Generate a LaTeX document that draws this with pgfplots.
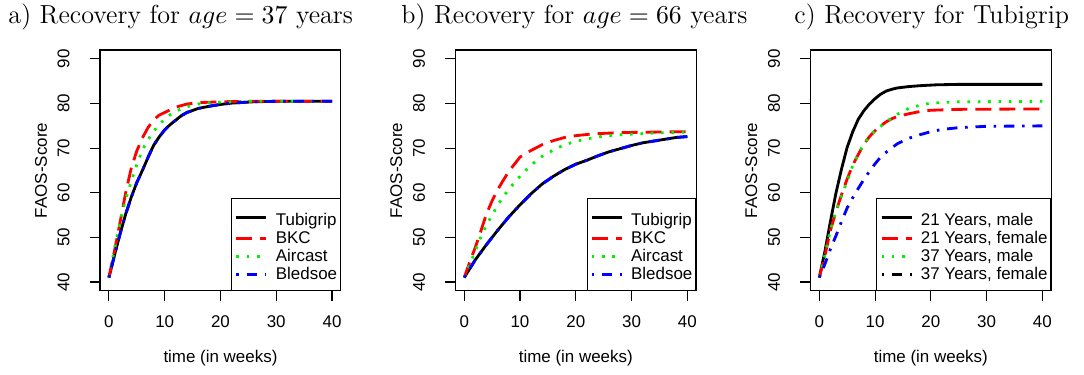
\documentclass[border=0pt]{standalone}
\usepackage{pgfplots}
\pgfplotsset{compat=1.18}
\usepackage{fontspec}
\newfontfamily\arial{Liberation Sans}
\definecolor{rred}{RGB}{255,0,0}
\definecolor{rgreen}{RGB}{0,240,0}
\definecolor{rblue}{RGB}{0,0,255}

\pgfplotstableread{
t a
0 41.0
1 46.0
2 50.8
3 55.2
4 59.0
5 62.3
6 65.0
7 67.9
8 70.6
9 72.5
10 74.1
11 75.3
12 76.3
13 77.3
14 78.0
16 78.9
18 79.4
20 79.8
22 80.1
26 80.4
30 80.5
40 80.5
}\aTub
\pgfplotstableread{
t a
0 41.0
1 47.0
2 53.4
3 60.0
4 65.5
5 69.4
6 72.3
7 74.6
8 76.3
9 77.4
10 78.0
11 78.6
12 79.2
14 79.9
16 80.2
20 80.4
25 80.5
40 80.5
}\aBKC
\pgfplotstableread{
t a
0 41.0
1 47.5
2 53.4
3 58.6
4 62.5
5 66.3
6 69.6
7 71.9
8 73.7
9 75.3
10 76.5
11 77.5
12 78.3
14 79.3
16 79.9
18 80.2
20 80.3
25 80.5
40 80.5
}\aAir
\pgfplotstableread{
t a
0 41.0
1 46.0
2 50.8
3 55.2
4 59.0
5 62.3
6 65.0
7 67.9
8 70.6
9 72.5
10 74.1
11 75.3
12 76.3
13 77.3
14 78.0
16 78.9
18 79.4
20 79.8
22 80.1
26 80.4
30 80.5
40 80.5
}\aBle
\pgfplotstableread{
t a
0 41.0
2 45.0
4 48.4
6 51.6
8 54.6
10 57.3
12 59.8
14 62.0
16 63.7
18 65.2
20 66.4
22 67.3
24 68.3
26 69.2
28 69.9
30 70.6
32 71.2
34 71.6
36 72.0
38 72.4
40 72.6
}\bTub
\pgfplotstableread{
t a
0 41.0
1 44.5
2 47.8
3 51.5
4 55.3
5 58.2
6 60.7
7 62.8
8 64.8
9 66.4
10 68.0
11 68.8
12 69.5
14 70.8
16 71.7
18 72.4
20 72.8
23 73.2
28 73.5
34 73.6
40 73.7
}\bBKC
\pgfplotstableread{
t a
0 41.0
1 44.0
2 47.0
3 50.2
4 52.8
5 55.0
6 57.2
7 59.1
8 60.8
9 62.3
10 63.7
11 65.0
12 66.2
14 68.2
16 69.6
18 70.8
20 71.5
22 72.1
25 72.7
28 73.0
34 73.4
40 73.6
}\bAir
\pgfplotstableread{
t a
0 41.0
2 45.0
4 48.4
6 51.6
8 54.6
10 57.3
12 59.8
14 62.0
16 63.7
18 65.2
20 66.4
22 67.3
24 68.3
26 69.2
28 69.9
30 70.6
32 71.2
34 71.6
36 72.0
38 72.4
40 72.6
}\bBle
\pgfplotstableread{
t a
0 41.0
1 46.8
2 53.6
3 60.0
4 65.4
5 70.2
6 73.7
7 76.5
8 78.4
9 79.9
10 81.1
11 82.1
12 82.8
13 83.2
14 83.5
16 83.8
18 84.0
21 84.2
25 84.3
40 84.3
}\cMa
\pgfplotstableread{
t a
0 41.0
1 45.8
2 51.6
3 55.8
4 59.6
5 63.1
6 66.2
7 68.6
8 70.9
9 72.6
10 73.9
11 75.0
12 75.9
13 76.6
14 77.1
16 77.7
18 78.2
20 78.5
25 78.7
40 78.8
}\cMb
\pgfplotstableread{
t a
0 41.0
1 46.0
2 51.6
3 55.9
4 59.4
5 62.6
6 66.1
7 68.8
8 70.9
9 72.8
10 74.0
11 74.9
12 75.9
13 76.8
14 77.6
16 78.9
18 79.6
20 80.1
25 80.4
40 80.5
}\cMc
\pgfplotstableread{
t a
0 41.0
1 44.0
2 47.4
3 50.4
4 53.6
5 56.6
6 58.9
7 61.0
8 63.0
9 64.8
10 66.5
11 68.0
12 69.1
14 71.0
16 72.2
18 73.0
20 73.7
22 74.2
25 74.6
30 74.9
40 75.0
}\cMd

\pgfplotsset{
 rpanel/.style={
  scale only axis, width=102.4pt, height=102.4pt,
  anchor=south west,
  xmin=-1.6, xmax=41.6, ymin=38, ymax=92,
  xtick={0,10,20,30,40}, ytick={40,50,...,90},
  tick align=outside, major tick length=4.2pt,
  xtick pos=bottom, ytick pos=left,
  axis line style={line width=0.45pt},
  every tick/.style={black, line width=0.45pt},
  ticklabel style={font=\arial\fontsize{7.2}{8.6}\selectfont, inner sep=0pt},
  /pgf/number format/assume math mode=true,
  yticklabel style={rotate=90, anchor=south},
  xticklabel style={anchor=north},
  yticklabel shift=8.5pt,
  xticklabel shift=6.0pt,
  xlabel={time (in weeks)}, ylabel={FAOS-Score},
  label style={font=\arial\fontsize{7.2}{8.6}\selectfont},
  xlabel style={at={(axis description cs:0.5,-0.278)}, anchor=center},
  ylabel style={at={(axis description cs:-0.245,0.5)}, anchor=center},
  legend style={at={(rel axis cs:1,0)}, anchor=south east, draw=black,
    line width=0.45pt, font=\arial\fontsize{7.2}{8.6}\selectfont,
    inner xsep=1.4pt, inner ysep=2.9pt, row sep=0pt,
    nodes={inner sep=0pt, text height=5.85pt, text depth=1.8pt},
    /tikz/row 1/.append style={nodes={text height=8.5pt}},
    /tikz/every odd column/.append style={column sep=3.4pt}},
  legend cell align=left,
  legend image code/.code={\draw[##1] (0pt,0pt) -- (12.75pt,0pt);},
 },
 tub/.style={black, line width=1.2pt},
 bkc/.style={rred, line width=1.2pt, dash pattern=on 6.8pt off 3.4pt},
 air/.style={rgreen, line width=1.2pt, dash pattern=on 1.1pt off 3.3pt},
 ble/.style={rblue, line width=1.2pt, dash pattern=on 1.1pt off 3.3pt on 4.4pt off 3.3pt},
}

\begin{document}
\begin{tikzpicture}
\useasboundingbox (0,0) rectangle (460.7pt,158.95pt);
\node[anchor=base west, inner sep=0pt, font=\fontsize{11.1}{13}\selectfont] at (3.4pt,149.05pt) {a) Recovery for $age=37$ years};
\node[anchor=base west, inner sep=0pt, font=\fontsize{11.1}{13}\selectfont] at (170.4pt,149.05pt) {b) Recovery for $age=66$ years};
\node[anchor=base west, inner sep=0pt, font=\fontsize{11.1}{13}\selectfont] at (337.45pt,149.05pt) {c) Recovery for Tubigrip};

\begin{axis}[rpanel, at={(42.5pt,35.3pt)}]
\addplot[tub] table[x=t,y=a] {\aTub}; \addlegendentry{Tubigrip}
\addplot[bkc] table[x=t,y=a] {\aBKC}; \addlegendentry{BKC}
\addplot[air] table[x=t,y=a] {\aAir}; \addlegendentry{Aircast}
\addplot[ble] table[x=t,y=a] {\aBle}; \addlegendentry{Bledsoe}
\end{axis}

\begin{axis}[rpanel, at={(193.5pt,35.3pt)}]
\addplot[tub] table[x=t,y=a] {\bTub}; \addlegendentry{Tubigrip}
\addplot[bkc] table[x=t,y=a] {\bBKC}; \addlegendentry{BKC}
\addplot[air] table[x=t,y=a] {\bAir}; \addlegendentry{Aircast}
\addplot[ble] table[x=t,y=a] {\bBle}; \addlegendentry{Bledsoe}
\end{axis}

\begin{axis}[rpanel, at={(344.4pt,35.3pt)}]
\addplot[tub] table[x=t,y=a] {\cMa}; \addlegendentry{21 Years, male}
\addplot[bkc] table[x=t,y=a] {\cMb}; \addlegendentry{21 Years, female}
\addplot[air] table[x=t,y=a] {\cMc}; \addlegendentry{37 Years, male}
\addplot[ble, forget plot] table[x=t,y=a] {\cMd};
\addlegendimage{black, line width=1.2pt, dash pattern=on 1.1pt off 3.3pt on 4.4pt off 3.3pt}
\addlegendentry{37 Years, female}
\end{axis}
\end{tikzpicture}
\end{document}
